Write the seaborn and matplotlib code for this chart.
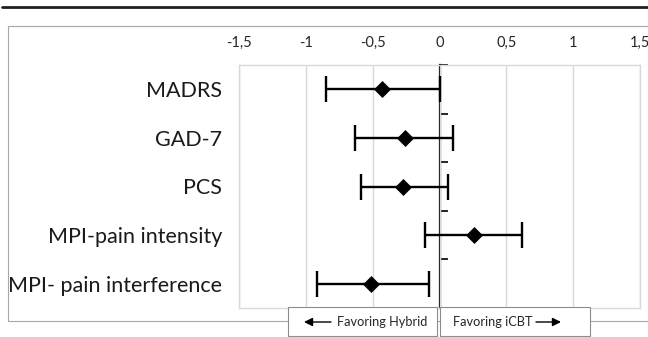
import numpy as np
import pandas as pd
import matplotlib
matplotlib.use("Agg")
import matplotlib.pyplot as plt
import seaborn as sns
from matplotlib.patches import Rectangle, FancyArrowPatch
from matplotlib.lines import Line2D

categories = ["MADRS", "GAD-7", "PCS", "MPI-pain intensity", "MPI- pain interference"]
effect = [-0.43, -0.26, -0.27, 0.26, -0.51]
ci_low = [-0.85, -0.63, -0.59, -0.11, -0.92]
ci_high = [0.00, 0.10, 0.06, 0.62, -0.08]
xtick_values = [-1.5, -1.0, -0.5, 0.0, 0.5, 1.0, 1.5]
xtick_labels = ["-1,5", "-1", "-0,5", "0", "0,5", "1", "1,5"]
direction_labels = ["Favoring Hybrid", "Favoring iCBT"]

sns.set_theme(style="white")
plt.rcParams["font.family"] = ["Lato", "DejaVu Sans"]

W, H = 648, 337
fig = plt.figure(figsize=(W / 100, H / 100), dpi=100)
ax = fig.add_axes([239 / W, 1 - 308 / H, (640 - 239) / W, (308 - 65) / H])

df = pd.DataFrame({"measure": categories, "effect": effect,
                   "low": ci_low, "high": ci_high})
df["pos"] = np.arange(len(df))

xerr = np.vstack([df["effect"] - df["low"], df["high"] - df["effect"]])
ax.errorbar(df["effect"], df["pos"], xerr=xerr, fmt="none", ecolor="black",
            elinewidth=1.7, capsize=9.5, capthick=1.7, zorder=3)
sns.scatterplot(data=df, x="effect", y="pos", marker="D", s=75, color="black",
                edgecolor="black", linewidth=0, zorder=4, ax=ax, legend=False)

ax.set_xlim(-1.5, 1.5)
ax.set_ylim(len(categories) - 0.5, -0.5)
ax.set_xticks(xtick_values)
ax.set_xticklabels(xtick_labels, fontsize=10.5, color="#262626")
ax.xaxis.tick_top()
ax.tick_params(axis="x", length=0, pad=11)
ax.set_yticks(df["pos"])
ax.set_yticklabels(categories, fontsize=15.5, color="#1a1a1a")
ax.tick_params(axis="y", length=0, pad=12)
ax.set_xlabel("")
ax.set_ylabel("")
ax.grid(axis="x", color="#d9d9d9", linewidth=1)
ax.grid(axis="y", visible=False)
for sp in ax.spines.values():
    sp.set_color("#d9d9d9")
    sp.set_linewidth(1)

# zero axis with category-boundary ticks
sec = ax.secondary_yaxis(0.5)
sec.set_yticks(np.arange(-0.5, len(categories), 1.0))
sec.set_yticklabels([""] * (len(categories) + 1))
sec.yaxis.set_ticks_position("right")
for name, sp in sec.spines.items():
    sp.set_visible(name == "right")
sec.spines["right"].set_color("black")
sec.spines["right"].set_linewidth(1.6)
sec.tick_params(axis="y", direction="out", length=5.5, width=1.2, color="black")

# figure decorations
fig.add_artist(Line2D([2 / W, 1.0], [1 - 7 / H] * 2, color="#231f20", linewidth=2.0))
fig.add_artist(Rectangle((8 / W, 1 - 321 / H), 1.0, (321 - 26) / H, fill=False,
                         edgecolor="#a6a6a6", linewidth=0.8, transform=fig.transFigure))

boxes = [(288, 437), (440, 590)]
for (x0, x1) in boxes:
    fig.add_artist(Rectangle((x0 / W, 1 / H), (x1 - x0) / W, 29 / H, facecolor="white",
                             edgecolor="#8c8c8c", linewidth=0.8, transform=fig.transFigure,
                             zorder=5))
ty = 1 - 322 / H
fig.text(337 / W, ty, direction_labels[0], fontsize=9.2, color="#262626", ha="left",
         va="center", zorder=6)
fig.text(453 / W, ty, direction_labels[1], fontsize=9.2, color="#262626", ha="left",
         va="center", zorder=6)
fig.add_artist(FancyArrowPatch((331 / W, ty), (304 / W, ty), transform=fig.transFigure,
                               arrowstyle="-|>,head_length=5,head_width=2.5", color="black",
                               linewidth=1, zorder=6, shrinkA=0, shrinkB=0))
fig.add_artist(FancyArrowPatch((536 / W, ty), (561 / W, ty), transform=fig.transFigure,
                               arrowstyle="-|>,head_length=5,head_width=2.5", color="black",
                               linewidth=1, zorder=6, shrinkA=0, shrinkB=0))

fig.savefig("out.png", dpi=100)
